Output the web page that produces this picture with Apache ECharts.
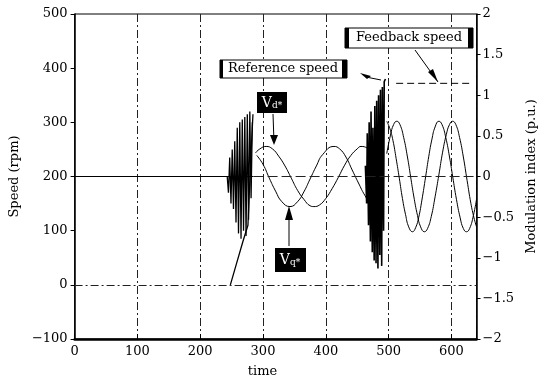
<!DOCTYPE html>
<html>
<head>
<meta charset="utf-8">
<script src="https://cdn.jsdelivr.net/npm/echarts@6/dist/echarts.min.js"></script>
<style>
  html, body { margin: 0; padding: 0; background: #fff; }
  #chart { width: 546px; height: 384px; }
</style>
</head>
<body>
<div id="chart"></div>
<script>
// axis ticks
const xTicks = [0, 100, 200, 300, 400, 500, 600];
const speedTicks = [-100, 0, 100, 200, 300, 400, 500];
const modTicks = [-2, -1.5, -1, -0.5, 0, 0.5, 1, 1.5, 2];

// speed (rpm), first start-up burst
const ramp1T = [248, 258, 268, 276, 280, 284];
const ramp1V = [0, 40, 80, 110, 220, 315];
const burst1T = [243, 245, 247, 249, 251, 253, 255, 257, 259, 261, 263, 265, 267, 269, 271, 273, 275, 277, 279, 281, 283];
const burst1V = [200, 170, 235, 150, 250, 140, 265, 115, 290, 95, 300, 85, 305, 100, 310, 90, 315, 120, 320, 160, 300];

// speed (rpm), second burst + steady level
const burst2T = [463, 465, 466, 468, 469, 471, 472, 474, 475, 477, 478, 480, 481, 483, 484, 486, 487, 489, 490, 492, 493, 495];
const burst2V = [220, 150, 280, 110, 300, 80, 320, 60, 290, 45, 330, 40, 340, 30, 350, 55, 360, 35, 365, 100, 375, 380];
const levelT = [512, 632];
const levelV = [372, 372];

// modulation index (p.u.), first interval
const vdEarlyT = [288, 295, 305, 315, 325, 335, 345, 355, 365, 375, 381, 390, 400, 410, 420, 430, 440, 450, 456, 466, 474];
const vdEarlyV = [0.29, 0.34, 0.37, 0.34, 0.25, 0.13, -0.02, -0.17, -0.28, -0.36, -0.37, -0.35, -0.27, -0.15, -0.01, 0.14, 0.26, 0.34, 0.37, 0.35, 0.30];
const vqEarlyT = [290, 300, 310, 320, 330, 343, 355, 365, 375, 385, 395, 413, 422, 432, 442, 452, 462, 472, 478];
const vqEarlyV = [0.26, 0.15, -0.02, -0.18, -0.31, -0.37, -0.31, -0.19, -0.03, 0.13, 0.27, 0.37, 0.34, 0.24, 0.08, -0.08, -0.23, -0.34, -0.37];

// modulation index (p.u.), second interval
const vdLateT = [497, 503, 508, 513, 518, 524, 530, 535, 540, 546, 551, 557, 562, 568, 574, 580, 586, 592, 597, 602, 607, 613, 619, 625, 631, 636, 640];
const vdLateV = [0.28, 0.51, 0.64, 0.68, 0.64, 0.48, 0.24, 0.0, -0.24, -0.48, -0.62, -0.68, -0.64, -0.49, -0.25, 0.02, 0.30, 0.52, 0.64, 0.68, 0.64, 0.48, 0.24, -0.05, -0.33, -0.51, -0.62];
const vqLateT = [497, 502, 507, 512, 517, 522, 527, 532, 538, 543, 548, 553, 559, 564, 569, 574, 580, 585, 591, 597, 602, 608, 614, 619, 624, 629, 635, 640];
const vqLateV = [0.68, 0.59, 0.44, 0.22, -0.02, -0.27, -0.47, -0.62, -0.68, -0.63, -0.50, -0.29, 0.0, 0.25, 0.46, 0.61, 0.68, 0.64, 0.48, 0.24, 0.0, -0.28, -0.51, -0.64, -0.68, -0.64, -0.48, -0.28];

function pairs(t, v) {
  return t.map((x, i) => [x, v[i]]);
}

function minus(value) {
  return String(value).replace("-", "\u2212");
}

const font = "DejaVu Serif";
const ink = "#000";
const dashDot = [8, 3, 2, 3];

const chart = echarts.init(document.getElementById("chart"), null, { renderer: "canvas" });

const thin = { color: ink, width: 1 };

chart.setOption({
  animation: false,
  backgroundColor: "#fff",
  grid: { left: 73, right: 67, top: 14, bottom: 45, show: true, borderColor: ink, borderWidth: 1 },
  xAxis: {
    type: "value", min: 0, max: 640, interval: 100,
    name: "time", nameLocation: "middle", nameGap: 26,
    nameTextStyle: { fontFamily: font, fontSize: 13, color: ink, padding: [0, 26, 0, 0] },
    axisLine: { show: true, onZero: false, lineStyle: { color: ink, width: 2.5 } },
    axisTick: { show: true, inside: true, length: 5, lineStyle: { color: ink } },
    axisLabel: { fontFamily: font, fontSize: 13, color: ink, margin: 6, formatter: (v) => xTicks.includes(v) ? minus(v) : "" },
    splitLine: { show: true, lineStyle: { color: "#222", width: 1, type: dashDot } }
  },
  yAxis: [
    {
      type: "value", position: "left", min: -100, max: 500, interval: 100,
      name: "Speed (rpm)", nameLocation: "middle", nameGap: 48, nameRotate: 90,
      nameTextStyle: { fontFamily: font, fontSize: 13, color: ink },
      axisLine: { show: true, onZero: false, lineStyle: { color: ink, width: 1.5 } },
      axisTick: { show: true, length: 4, lineStyle: { color: ink } },
      axisLabel: { fontFamily: font, fontSize: 13, color: ink, margin: 7, formatter: (v) => speedTicks.includes(v) ? minus(v) : "" },
      splitLine: { show: false }
    },
    {
      type: "value", position: "right", min: -2, max: 2, interval: 0.5,
      name: "Modulation index (p.u.)", nameLocation: "middle", nameGap: 42, nameRotate: 90,
      nameTextStyle: { fontFamily: font, fontSize: 13, color: ink },
      axisLine: { show: true, onZero: false, lineStyle: { color: ink, width: 1.5 } },
      axisTick: { show: true, length: 4, lineStyle: { color: ink } },
      axisLabel: { fontFamily: font, fontSize: 13, color: ink, margin: 6, formatter: (v) => modTicks.includes(v) ? minus(v) : "" },
      splitLine: { show: false }
    }
  ],
  series: [
    {
      name: "ramp1", type: "line", yAxisIndex: 0, showSymbol: false,
      data: pairs(ramp1T, ramp1V), lineStyle: { color: ink, width: 1.3 },
      markLine: {
        silent: true, symbol: "none", label: { show: false },
        data: [
          [{ coord: [0, 0], lineStyle: { color: "#222", width: 1, type: dashDot } }, { coord: [640, 0] }],
          [{ coord: [0, 200], lineStyle: { color: ink, width: 1, type: "solid" } }, { coord: [285, 200] }],
          [{ coord: [285, 200], lineStyle: { color: "#222", width: 1, type: [10, 4] } }, { coord: [640, 200] }]
        ]
      }
    },
    { name: "burst1", type: "line", yAxisIndex: 0, showSymbol: false, data: pairs(burst1T, burst1V), lineStyle: { color: ink, width: 1.3 } },
    { name: "burst2", type: "line", yAxisIndex: 0, showSymbol: false, data: pairs(burst2T, burst2V), lineStyle: { color: ink, width: 1.6 } },
    { name: "level", type: "line", yAxisIndex: 0, showSymbol: false, data: pairs(levelT, levelV), lineStyle: { color: ink, width: 1, type: [7, 4] } },
    { name: "vdEarly", type: "line", yAxisIndex: 1, showSymbol: false, smooth: true, data: pairs(vdEarlyT, vdEarlyV), lineStyle: thin },
    { name: "vqEarly", type: "line", yAxisIndex: 1, showSymbol: false, smooth: true, data: pairs(vqEarlyT, vqEarlyV), lineStyle: thin },
    { name: "vdLate", type: "line", yAxisIndex: 1, showSymbol: false, smooth: true, data: pairs(vdLateT, vdLateV), lineStyle: thin },
    { name: "vqLate", type: "line", yAxisIndex: 1, showSymbol: false, smooth: true, data: pairs(vqLateT, vqLateV), lineStyle: thin }
  ],
  graphic: [
    // Reference speed label
    { type: "rect", shape: { x: 220, y: 60, width: 127, height: 18 }, style: { fill: "#fff", stroke: ink, lineWidth: 1 }, z: 100 },
    { type: "rect", shape: { x: 220, y: 60, width: 3, height: 18 }, style: { fill: ink }, z: 101 },
    { type: "rect", shape: { x: 342, y: 60, width: 5, height: 18 }, style: { fill: ink }, z: 101 },
    { type: "text", x: 283, y: 69, style: { text: "Reference speed", fontFamily: font, fontSize: 13, fill: ink, align: "center", verticalAlign: "middle" }, z: 102 },
    { type: "polygon", shape: { points: [[360, 73], [371, 76], [367, 79]] }, style: { fill: ink }, z: 100 },
    { type: "line", shape: { x1: 366, y1: 77, x2: 381, y2: 80 }, style: { stroke: ink, lineWidth: 1 }, z: 100 },
    // Feedback speed label
    { type: "rect", shape: { x: 345, y: 28, width: 128, height: 20 }, style: { fill: "#fff", stroke: ink, lineWidth: 1 }, z: 100 },
    { type: "rect", shape: { x: 345, y: 28, width: 4, height: 20 }, style: { fill: ink }, z: 101 },
    { type: "rect", shape: { x: 468, y: 28, width: 5, height: 20 }, style: { fill: ink }, z: 101 },
    { type: "text", x: 409, y: 38, style: { text: "Feedback speed", fontFamily: font, fontSize: 13, fill: ink, align: "center", verticalAlign: "middle" }, z: 102 },
    { type: "line", shape: { x1: 415, y1: 50, x2: 438, y2: 82 }, style: { stroke: ink, lineWidth: 1 }, z: 100 },
    { type: "polygon", shape: { points: [[438, 82], [428, 72], [433, 69]] }, style: { fill: ink }, z: 100 },
    // Vd* label
    { type: "rect", shape: { x: 257, y: 92, width: 30, height: 21 }, style: { fill: ink }, z: 100 },
    {
      type: "text", x: 272, y: 103, z: 101,
      style: {
        text: "{v|V}{s|d*}", align: "center", verticalAlign: "middle",
        rich: { v: { fontFamily: font, fontSize: 14, fill: "#fff" }, s: { fontFamily: font, fontSize: 9, fill: "#fff", padding: [6, 0, 0, 0] } }
      }
    },
    { type: "line", shape: { x1: 273, y1: 114, x2: 274, y2: 142 }, style: { stroke: ink, lineWidth: 1 }, z: 100 },
    { type: "polygon", shape: { points: [[274, 145], [270, 135], [278, 135]] }, style: { fill: ink }, z: 100 },
    // Vq* label
    { type: "rect", shape: { x: 275, y: 248, width: 31, height: 24 }, style: { fill: ink }, z: 100 },
    {
      type: "text", x: 290, y: 260, z: 101,
      style: {
        text: "{v|V}{s|q*}", align: "center", verticalAlign: "middle",
        rich: { v: { fontFamily: font, fontSize: 14, fill: "#fff" }, s: { fontFamily: font, fontSize: 9, fill: "#fff", padding: [6, 0, 0, 0] } }
      }
    },
    { type: "line", shape: { x1: 289, y1: 246, x2: 289, y2: 212 }, style: { stroke: ink, lineWidth: 1 }, z: 100 },
    { type: "polygon", shape: { points: [[289, 206], [285, 220], [293, 220]] }, style: { fill: ink }, z: 100 }
  ]
});
</script>
</body>
</html>
